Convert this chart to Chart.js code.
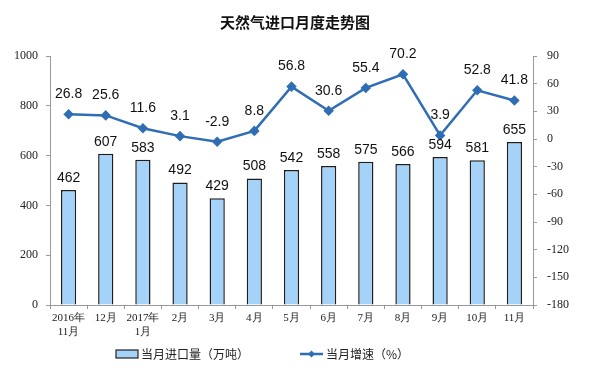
<!DOCTYPE html>
<html>
<head>
<meta charset="utf-8">
<script src="https://cdn.jsdelivr.net/npm/chart.js@4"></script>
<style>
  html, body { margin: 0; padding: 0; background: #fff; }
  #wrap { width: 589px; height: 377px; position: relative; }
</style>
</head>
<body>
<div id="wrap"><canvas id="chart" width="589" height="377"></canvas></div>
<script>
const months = [['2016年', '11月'], '12月', ['2017年', '1月'], '2月', '3月', '4月', '5月', '6月', '7月', '8月', '9月', '10月', '11月'];
const importVolume = [462, 607, 583, 492, 429, 508, 542, 558, 575, 566, 594, 581, 655];
const growthRate = [26.8, 25.6, 11.6, 3.1, -2.9, 8.8, 56.8, 30.6, 55.4, 70.2, 3.9, 52.8, 41.8];
const volumeLabel = '当月进口量（万吨）';
const growthLabel = '当月增速（%）';

const barFill = '#a5d2f8';
const lineColor = '#2f6db5';
const serif = '"Liberation Serif", "DejaVu Serif", serif';
const sans = '"Liberation Sans", Arial, sans-serif';
const cjk = '"Noto Sans CJK SC", sans-serif';

// title, value labels and legend drawn straight on the canvas
const decorations = {
  id: 'decorations',
  afterDatasetsDraw(chart) {
    const ctx = chart.ctx;
    ctx.save();
    ctx.fillStyle = '#111';
    ctx.textAlign = 'center';
    ctx.textBaseline = 'middle';
    ctx.font = '14px ' + sans;
    chart.getDatasetMeta(0).data.forEach((bar, i) => {
      ctx.fillText(importVolume[i], bar.x, bar.y - 12);
    });
    chart.getDatasetMeta(1).data.forEach((pt, i) => {
      ctx.fillText(growthRate[i], pt.x, pt.y - 20);
    });

    ctx.font = 'bold 15px ' + cjk;
    ctx.fillText('天然气进口月度走势图', 295, 22);

    // legend
    ctx.font = '12px ' + cjk;
    ctx.textAlign = 'left';
    ctx.fillStyle = barFill;
    ctx.fillRect(116, 350, 22, 8);
    ctx.strokeStyle = '#222';
    ctx.lineWidth = 1.2;
    ctx.strokeRect(116, 350, 22, 8);
    ctx.fillStyle = '#222';
    ctx.fillText(volumeLabel, 141, 354);

    ctx.strokeStyle = lineColor;
    ctx.lineWidth = 2.5;
    ctx.beginPath();
    ctx.moveTo(300, 354);
    ctx.lineTo(323, 354);
    ctx.stroke();
    ctx.fillStyle = lineColor;
    ctx.beginPath();
    ctx.moveTo(311.5, 350.5);
    ctx.lineTo(315, 354);
    ctx.lineTo(311.5, 357.5);
    ctx.lineTo(308, 354);
    ctx.closePath();
    ctx.fill();
    ctx.fillStyle = '#222';
    ctx.fillText(growthLabel, 326, 354);
    ctx.restore();
  }
};

new Chart(document.getElementById('chart'), {
  data: {
    labels: months,
    datasets: [
      {
        type: 'bar',
        label: volumeLabel,
        data: importVolume,
        yAxisID: 'y',
        backgroundColor: barFill,
        borderColor: '#1e1e1e',
        borderWidth: 1.5,
        barPercentage: 0.41,
        categoryPercentage: 1,
        order: 2
      },
      {
        type: 'line',
        label: growthLabel,
        data: growthRate,
        yAxisID: 'y1',
        borderColor: lineColor,
        backgroundColor: lineColor,
        borderWidth: 2.5,
        pointStyle: 'rectRot',
        pointRadius: 3.5,
        tension: 0,
        order: 1
      }
    ]
  },
  options: {
    responsive: false,
    animation: false,
    layout: { padding: { top: 56, left: 0, right: 0, bottom: 0 } },
    plugins: {
      legend: { display: false },
      tooltip: { enabled: false },
      title: { display: false }
    },
    scales: {
      x: {
        grid: { drawOnChartArea: false, tickLength: 4, color: '#999' },
        border: { color: '#999' },
        ticks: { color: '#222', font: { family: serif, size: 11 }, padding: 3, maxRotation: 0, autoSkip: false },
        afterFit(axis) { axis.height = 72; }
      },
      y: {
        position: 'left',
        min: 0,
        max: 1000,
        ticks: { stepSize: 200, color: '#222', font: { family: serif, size: 12 }, padding: 8, callback: v => String(v) },
        grid: { drawOnChartArea: false, tickLength: 4, color: '#999' },
        border: { color: '#999' },
        afterFit(axis) { axis.width = 50; }
      },
      y1: {
        position: 'right',
        min: -180,
        max: 90,
        ticks: { stepSize: 30, color: '#222', font: { family: serif, size: 12 }, padding: 10, callback: v => String(v) },
        grid: { drawOnChartArea: false, tickLength: 4, color: '#999' },
        border: { color: '#999' },
        afterFit(axis) { axis.width = 56; }
      }
    }
  },
  plugins: [decorations]
});
</script>
</body>
</html>
